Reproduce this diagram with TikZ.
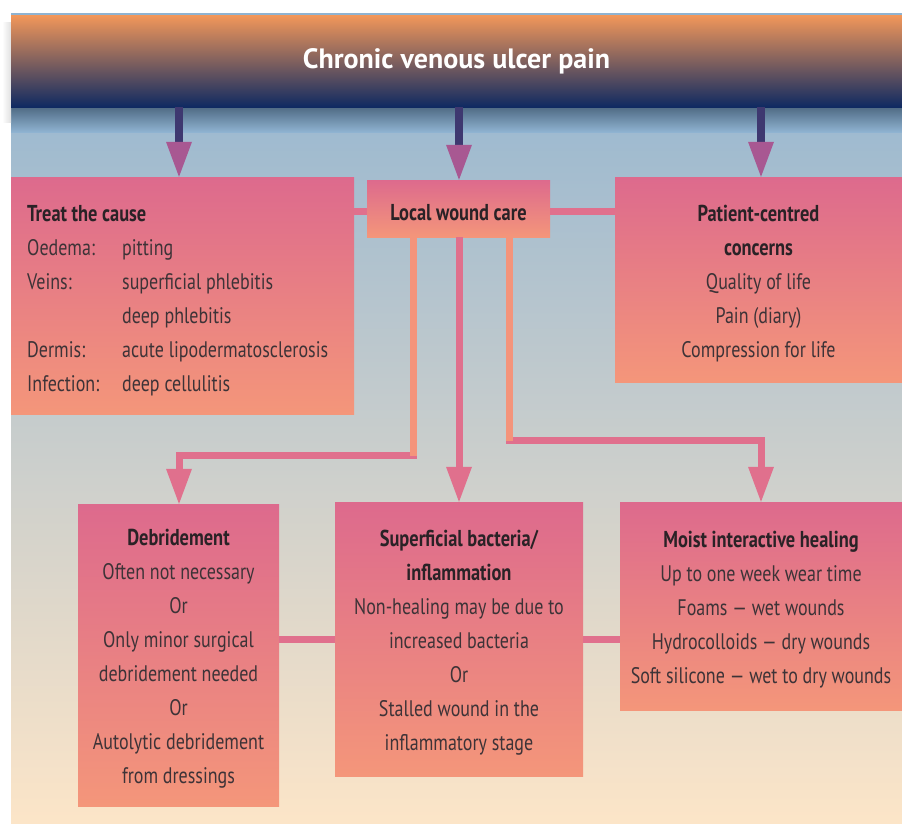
\documentclass[tikz,border=0pt]{standalone}
\usepackage{fontspec}
\setmainfont{PT Sans}[FakeStretch=0.8]
\newfontfamily\banfont{PT Sans}
\usetikzlibrary{arrows.meta,shadings,calc}
\definecolor{bgtop}{HTML}{8FB3D1}
\definecolor{bgmid}{HTML}{C0C8CF}
\definecolor{bgbot}{HTML}{FCE5C8}
\definecolor{boxtop}{HTML}{DD6A8D}
\definecolor{boxbot}{HTML}{F4967A}
\definecolor{bantop}{HTML}{F2975A}
\definecolor{banmid}{HTML}{71506B}
\definecolor{banbot}{HTML}{0F2A62}
\definecolor{shadowc}{HTML}{4F6A84}
\definecolor{shaftc}{HTML}{3E3870}
\definecolor{tipc}{HTML}{A85892}
\definecolor{pinkc}{HTML}{E0708D}
\definecolor{orangec}{HTML}{F4947B}
\definecolor{bodytext}{HTML}{3D3337}
\definecolor{titletext}{HTML}{2A2226}
\newcommand\bodyfont{\fontsize{22.5}{34}\selectfont}
\newcommand\ttlfont{\fontsize{23}{34}\selectfont\bfseries\color{titletext}}
\newcommand\lift{\rule{0pt}{24pt}}
\begin{document}
\begin{tikzpicture}[x=1pt,y=-1pt,
  box/.style={rectangle, inner sep=0pt, draw=none, top color=boxtop, bottom color=boxbot,
              align=center, font=\bodyfont, text=bodytext},
  toparrow/.style={line width=8.5pt, draw=shaftc,
              -{Triangle[width=26pt,length=35pt,line width=0pt,color=tipc]}},
  conn/.style={line width=7pt, draw=pinkc},
  connarrow/.style={conn, -{Triangle[width=26pt,length=35pt,line width=0pt,color=pinkc]}},
  connor/.style={line width=7pt, draw=orangec}]
\useasboundingbox (0,0) rectangle (902,823);
% background
\shade[top color=bgtop, middle color=bgmid, bottom color=bgbot] (11,13) rectangle (902,823);
% banner shadow
\shade[top color=shadowc, bottom color=bgtop] (11,107) rectangle (902,132);
\shade[left color=white, right color=black!12] (2,22) rectangle (11,122);
% banner
\node[rectangle, inner sep=0pt, top color=bantop, middle color=banmid, bottom color=banbot,
      minimum width=891pt, minimum height=92pt, text=white,
      font=\banfont\fontsize{28}{32}\selectfont\bfseries] (banner) at (456.5,61) {Chronic venous ulcer pain};
% boxes
\node[box, minimum width=343pt, minimum height=237pt] (treat) at (182.5,295.5) {};
\node[anchor=base west, inner sep=0pt, font=\bodyfont, text=bodytext] (treattxt) at (27,221)
  {\begin{tabular}[t]{@{}p{95pt}@{}l@{}}
   \multicolumn{2}{@{}l@{}}{\ttlfont Treat the cause}\\
   Oedema: & pitting\\
   Veins: & superficial phlebitis\\
    & deep phlebitis\\
   Dermis: & acute lipodermatosclerosis\\
   Infection: & deep cellulitis
   \end{tabular}};
\node[box, minimum width=183pt, minimum height=57pt] (local) at (458.5,208.5) {\lift\ttlfont Local wound care};
\node[box, minimum width=287pt, minimum height=205pt] (patient) at (758.5,279.5)
  {\lift{\ttlfont Patient-centred}\\{\ttlfont concerns}\\Quality of life\\Pain (diary)\\Compression for life};
\node[box, minimum width=201pt, minimum height=302pt] (debrid) at (178.5,655)
  {\lift{\ttlfont Debridement}\\Often not necessary\\Or\\Only minor surgical\\debridement needed\\Or\\Autolytic debridement\\from dressings};
\node[box, minimum width=248pt, minimum height=274pt] (superf) at (459,639)
  {\lift{\ttlfont Superficial bacteria/}\\{\ttlfont inflammation}\\Non-healing may be due to\\increased bacteria\\Or\\Stalled wound in the\\inflammatory stage};
\node[box, minimum width=282pt, minimum height=208pt] (moist) at (761,606)
  {\lift{\ttlfont Moist interactive healing}\\Up to one week wear time\\Foams --- wet wounds\\Hydrocolloids --- dry wounds\\Soft silicone --- wet to dry wounds};
% helper coordinates
\coordinate (c1) at (179,0);
\coordinate (c2) at (459,0);
\coordinate (c3) at (761,0);
\coordinate (l1) at (413,0);
\coordinate (l3) at (509,0);
\coordinate (h1) at (0,455.5);
\coordinate (h3) at (0,440.5);
\coordinate (r1) at (0,211.5);
\coordinate (r2) at (0,639.5);
% top arrows
\draw[toparrow] (c1 |- banner.south) -- (c1 |- treat.north);
\draw[toparrow] (c2 |- banner.south) -- (c2 |- local.north);
\draw[toparrow] (c3 |- banner.south) -- (c3 |- patient.north);
% horizontal links
\draw[conn] (treat.east |- r1) -- (local.west |- r1);
\draw[conn] (local.east |- r1) -- (patient.west |- r1);
\draw[conn] (debrid.east |- r2) -- (superf.west |- r2);
\draw[conn] (superf.east |- r2) -- (moist.west |- r2);
% local wound care to lower boxes
\draw[connarrow] (l1 |- local.south) -- (l1 |- h1) -- (c1 |- h1) -- (c1 |- debrid.north);
\draw[connor] (l1 |- local.south) -- (l1 |- h1);
\draw[connarrow] (c2 |- local.south) -- (c2 |- superf.north);
\draw[connarrow] (l3 |- local.south) -- (l3 |- h3) -- (c3 |- h3) -- (c3 |- moist.north);
\draw[connor] (l3 |- local.south) -- (l3 |- h3);
\end{tikzpicture}
\end{document}
